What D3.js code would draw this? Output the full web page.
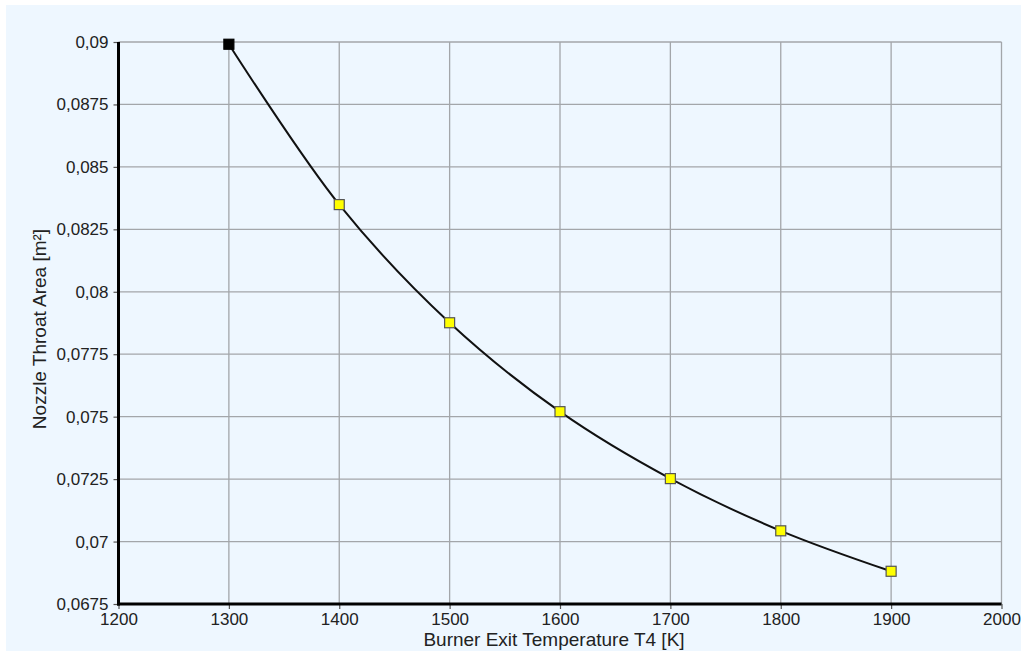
<!DOCTYPE html>
<html>
<head>
<meta charset="utf-8">
<script src="https://cdn.jsdelivr.net/npm/d3@7"></script>
<style>
  html, body { margin: 0; padding: 0; background: #ffffff; }
  svg { display: block; }
  text { font-family: "Liberation Sans", Arial, sans-serif; fill: #222; }
</style>
</head>
<body>
<svg id="chart" width="1021" height="651"></svg>
<script>
// Burner exit temperature T4 [K]
const temperatures = [1300, 1400, 1500, 1600, 1700, 1800, 1900];
// Nozzle throat area [m²]
const throatArea = [0.08991, 0.08349, 0.07876, 0.07520, 0.07252, 0.07043, 0.06881];
// Axis ticks
const xTicks = [1200, 1300, 1400, 1500, 1600, 1700, 1800, 1900, 2000];
const yTicks = [0.0675, 0.07, 0.0725, 0.075, 0.0775, 0.08, 0.0825, 0.085, 0.0875, 0.09];
const xTitle = "Burner Exit Temperature T4 [K]";
const yTitle = "Nozzle Throat Area [m²]";

const W = 1021, H = 651;
const plot = { left: 118.5, right: 1001.5, top: 42, bottom: 604 };

const svg = d3.select("#chart");

// panel background
svg.append("rect")
  .attr("x", 6).attr("y", 5)
  .attr("width", W - 6).attr("height", H - 5)
  .attr("fill", "#eef7ff");

const x = d3.scaleLinear().domain([1200, 2000]).range([plot.left, plot.right]);
const y = d3.scaleLinear().domain([0.0675, 0.09]).range([plot.bottom, plot.top]);

const fmt = v => String(+v.toFixed(5)).replace(".", ",");

// grid
const grid = svg.append("g");
grid.selectAll(".gx").data(xTicks.slice(1)).join("line")
  .attr("x1", d => x(d)).attr("x2", d => x(d))
  .attr("y1", plot.top).attr("y2", plot.bottom)
  .attr("stroke", "#a3a6aa").attr("stroke-width", 1.3);
grid.selectAll(".gy").data(yTicks.slice(1)).join("line")
  .attr("x1", plot.left).attr("x2", plot.right)
  .attr("y1", d => y(d)).attr("y2", d => y(d))
  .attr("stroke", "#a3a6aa").attr("stroke-width", 1.3);

// axes
const xAxis = d3.axisBottom(x).tickValues(xTicks).tickFormat(d => d).tickSize(5).tickPadding(4);
const yAxis = d3.axisLeft(y).tickValues(yTicks).tickFormat(fmt).tickSize(5).tickPadding(5);

const gx = svg.append("g").attr("transform", `translate(0,${plot.bottom})`).call(xAxis);
const gy = svg.append("g").attr("transform", `translate(${plot.left},0)`).call(yAxis);
[gx, gy].forEach(g => {
  g.select(".domain").remove();
  g.selectAll(".tick line").attr("stroke", "#555").attr("stroke-width", 1.2);
  g.selectAll(".tick text").style("font-size", "17px").attr("fill", "#222");
});

// thick axis lines
svg.append("line")
  .attr("x1", plot.left).attr("x2", plot.left)
  .attr("y1", plot.top).attr("y2", plot.bottom + 1.5)
  .attr("stroke", "#000").attr("stroke-width", 3);
svg.append("line")
  .attr("x1", plot.left - 1.5).attr("x2", plot.right)
  .attr("y1", plot.bottom).attr("y2", plot.bottom)
  .attr("stroke", "#000").attr("stroke-width", 3);

// axis titles
svg.append("text")
  .attr("x", 554).attr("y", 646)
  .attr("text-anchor", "middle")
  .style("font-size", "19px")
  .text(xTitle);
svg.append("text")
  .attr("transform", `translate(46,${(plot.top + plot.bottom) / 2 + 6}) rotate(-90)`)
  .attr("text-anchor", "middle")
  .style("font-size", "19px")
  .text(yTitle);

// curve
const pts = temperatures.map((t, i) => [t, throatArea[i]]);
const line = d3.line()
  .x(d => x(d[0])).y(d => y(d[1]))
  .curve(d3.curveCatmullRom.alpha(0.5));
svg.append("path")
  .datum(pts)
  .attr("d", line)
  .attr("fill", "none")
  .attr("stroke", "#111")
  .attr("stroke-width", 2);

// markers
const s = 10;
svg.selectAll(".pt").data(pts).join("rect")
  .attr("x", d => x(d[0]) - s / 2)
  .attr("y", d => y(d[1]) - s / 2)
  .attr("width", s).attr("height", s)
  .attr("fill", (d, i) => i === 0 ? "#000" : "#ffff00")
  .attr("stroke", (d, i) => i === 0 ? "#000" : "#555")
  .attr("stroke-width", 1.2);
</script>
</body>
</html>
